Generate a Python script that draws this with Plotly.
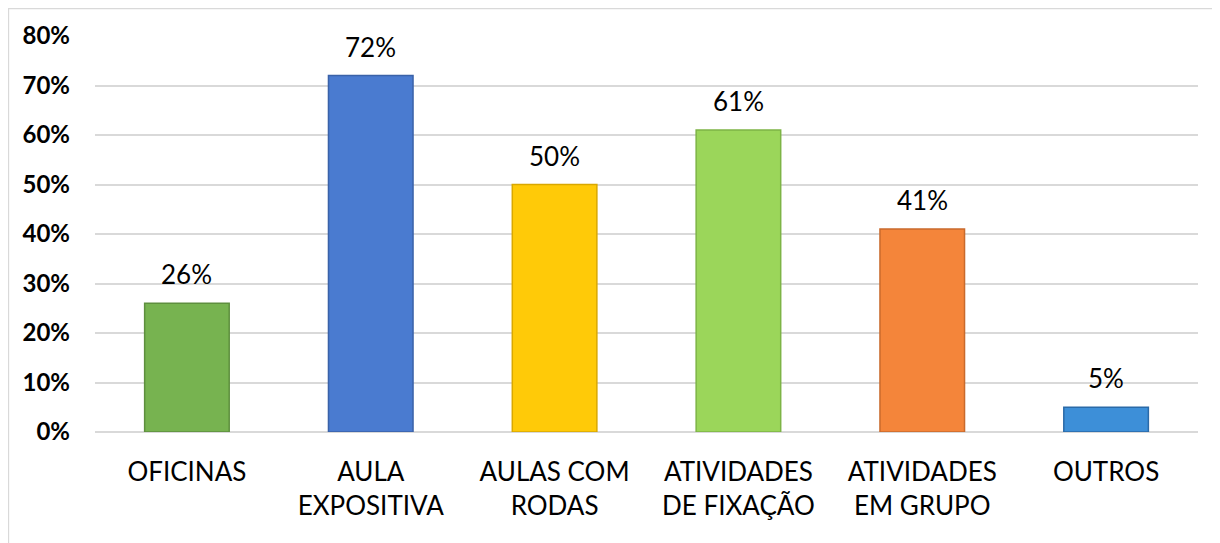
import plotly.graph_objects as go

categories = ["OFICINAS", "AULA<br>EXPOSITIVA", "AULAS COM<br>RODAS", "ATIVIDADES<br>DE FIXAÇÃO", "ATIVIDADES<br>EM GRUPO", "OUTROS"]
values = [26, 72, 50, 61, 41, 5]
labels = ["26%", "72%", "50%", "61%", "41%", "5%"]
colors = ["#77B350", "#4A7BD0", "#FFCA08", "#9BD65A", "#F4853A", "#3D8FD8"]
edges = ["#5E8F3E", "#3A62A8", "#D9A800", "#7DB446", "#C96A2C", "#2A6AA8"]
tick_vals = [0, 10, 20, 30, 40, 50, 60, 70, 80]
tick_text = ["0%", "10%", "20%", "30%", "40%", "50%", "60%", "70%", "80%"]

FONT = "Lato"

fig = go.Figure()
fig.add_trace(go.Bar(
    x=categories, y=values,
    marker=dict(color=colors, line=dict(color=edges, width=1.5)),
    width=0.46,
    hoverinfo="skip",
))

for c, v, t in zip(categories, values, labels):
    fig.add_annotation(x=c, y=v, text=t, showarrow=False, yanchor="bottom", yshift=11,
                       font=dict(family=FONT, size=26, color="#000000"))

fig.add_shape(type="rect", xref="paper", yref="paper", x0=-0.0785, x1=1.2, y0=-0.5, y1=1.0694,
              line=dict(color="#D9D9D9", width=1.5), fillcolor="rgba(0,0,0,0)", layer="below")

fig.update_layout(
    width=1212, height=535,
    margin=dict(l=87, r=22, t=28, b=111),
    paper_bgcolor="white", plot_bgcolor="white",
    showlegend=False,
    xaxis=dict(showgrid=False, showline=False, ticks="", ticklabelstandoff=22,
               tickfont=dict(family=FONT, size=26, color="#000000")),
    yaxis=dict(range=[0, 80], tickvals=tick_vals, ticktext=tick_text,
               showgrid=True, gridcolor="#D9D9D9", gridwidth=1.5,
               zeroline=True, zerolinecolor="#D9D9D9", zerolinewidth=1.5,
               showline=False, ticks="", ticklabelstandoff=24,
               tickfont=dict(family=FONT, size=24, color="#000000", weight="bold")),
)

fig.write_html("out.html")
